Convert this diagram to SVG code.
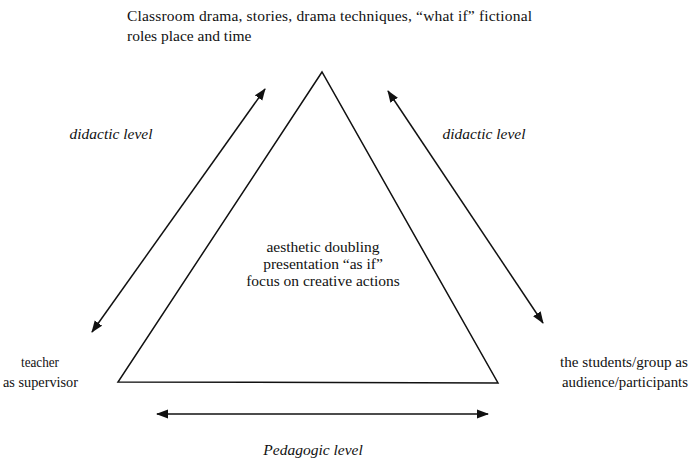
<svg xmlns="http://www.w3.org/2000/svg" width="693" height="462" viewBox="0 0 693 462">
<defs>
<style>
text{font-family:"Liberation Serif","Times New Roman",serif;font-size:15.5px;fill:#111}
.c{text-anchor:middle}
.i{font-style:italic}
.s{font-size:15px}
.ln{stroke:#111;stroke-width:1.5;fill:none}
</style>
<marker id="ah" viewBox="0 0 12 10" refX="11" refY="5" markerWidth="12" markerHeight="10" markerUnits="userSpaceOnUse" orient="auto-start-reverse">
<path d="M0,0.5 L12,5 L0,9.5 z" fill="#111"/>
</marker>
</defs>
<rect width="693" height="462" fill="#fff"/>
<g id="top-label">
<text x="127" y="21" textLength="405" lengthAdjust="spacing">Classroom drama, stories, drama techniques, “what if” fictional</text>
<text x="127" y="41">roles place and time</text>
</g>
<g id="triangle">
<path class="ln" d="M322,72 L118,382 L498,383 Z"/>
<text class="c" x="323" y="252">aesthetic doubling</text>
<text class="c" x="323" y="269">presentation “as if”</text>
<text class="c" x="323" y="286">focus on creative actions</text>
</g>
<g id="teacher">
<text class="s" x="21" y="367" textLength="38" lengthAdjust="spacingAndGlyphs">teacher</text>
<text class="s" x="3" y="387" textLength="75" lengthAdjust="spacingAndGlyphs">as supervisor</text>
</g>
<g id="students">
<text class="s" x="560" y="367" textLength="128" lengthAdjust="spacingAndGlyphs">the students/group as</text>
<text class="s" x="562" y="387" textLength="126" lengthAdjust="spacingAndGlyphs">audience/participants</text>
</g>
<g id="connectors">
<line class="ln" x1="92" y1="332" x2="265" y2="89" marker-start="url(#ah)" marker-end="url(#ah)"/>
<line class="ln" x1="388" y1="91" x2="543" y2="323" marker-start="url(#ah)" marker-end="url(#ah)"/>
<line class="ln" x1="157" y1="414" x2="488" y2="414" marker-start="url(#ah)" marker-end="url(#ah)"/>
</g>
<g id="labels">
<text class="c i" x="111" y="139">didactic level</text>
<text class="c i" x="484" y="139">didactic level</text>
<text class="c i" x="313" y="455">Pedagogic level</text>
</g>
</svg>
